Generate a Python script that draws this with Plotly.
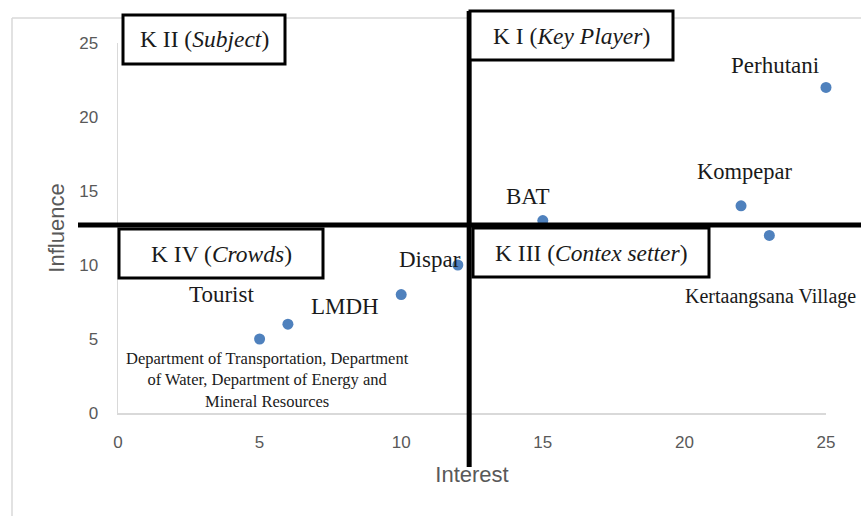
import plotly.graph_objects as go

# ---- data ----
stakeholders = ["Perhutani", "Kompepar", "BAT", "Dispar", "Kertaangsana Village",
                "LMDH", "Tourist",
                "Department of Transportation, Department<br>of Water, Department of Energy and<br>Mineral Resources"]
interest = [25, 22, 15, 12, 23, 10, 6, 5]
influence = [22, 14, 13, 10, 12, 8, 6, 5]
divider_interest = 12.4
divider_influence = 12.7
quadrant_labels = ["K I (<i>Key Player</i>)", "K II (<i>Subject</i>)",
                   "K III (<i>Contex setter</i>)", "K IV (<i>Crowds</i>)"]
x_ticks = [0, 5, 10, 15, 20, 25]
y_ticks = [0, 5, 10, 15, 20, 25]

# ---- layout geometry (window pixels; body margin removed via post_script) ----
W, H = 861, 516
PLOT_L, PLOT_R, PLOT_T, PLOT_B = 118, 826, 43, 413
L, R, T, B = PLOT_L, W - PLOT_R, PLOT_T, H - PLOT_B
PW, PH = PLOT_R - PLOT_L, PLOT_B - PLOT_T


def px(x):
    return (x - PLOT_L) / PW


def py(y):
    return (PLOT_B - y) / PH


SERIF = "Liberation Serif"
SANS = "Liberation Sans"
GRAY = "#595959"
LINE = "#d9d9d9"

fig = go.Figure()
fig.add_trace(go.Scatter(
    x=interest, y=influence, mode="markers",
    marker=dict(color="#4f81bd", size=11),
    cliponaxis=False, hoverinfo="skip", showlegend=False))

# point labels: (xshift, yshift, xanchor, font size)
label_style = [
    (-51, 22, "center", 23),
    (3, 34, "center", 22.5),
    (-15, 24, "center", 23),
    (-28, 6, "center", 23),
    (-86, -61, "left", 20),
    (-56, -12, "center", 23),
    (-66, 30, "center", 23),
    (8, -41, "center", 16.5),
]
for name, xv, yv, (xs, ys, xa, fs) in zip(stakeholders, interest, influence, label_style):
    fig.add_annotation(x=xv, y=yv, xref="x", yref="y", text=name, showarrow=False,
                       xshift=xs, yshift=ys, xanchor=xa, yanchor="middle",
                       font=dict(family=SERIF, size=fs, color="#1a1a1a"))

shapes = []
# outer chart frame (left & top)
shapes.append(dict(type="line", xref="paper", yref="paper", x0=px(12), x1=px(12),
                   y0=py(18), y1=py(H + 5), line=dict(color=LINE, width=1.5)))
shapes.append(dict(type="line", xref="paper", yref="paper", x0=px(12), x1=px(W + 5),
                   y0=py(18), y1=py(18), line=dict(color=LINE, width=1.5)))
# quadrant dividers
shapes.append(dict(type="line", xref="x", yref="paper", x0=divider_interest, x1=divider_interest,
                   y0=py(11), y1=py(467), line=dict(color="black", width=5)))
shapes.append(dict(type="line", xref="paper", yref="y", x0=px(78), x1=px(W + 5),
                   y0=divider_influence, y1=divider_influence, line=dict(color="black", width=5)))

# quadrant boxes (window pixel boxes) and their labels
boxes = [(470, 11, 673, 60), (123, 15, 285, 64), (473, 228, 709, 277), (119, 229, 323, 278)]
for (x0, y0, x1, y1), txt in zip(boxes, quadrant_labels):
    shapes.append(dict(type="rect", xref="paper", yref="paper", x0=px(x0), x1=px(x1),
                       y0=py(y0), y1=py(y1), line=dict(color="black", width=3),
                       fillcolor="white"))
    fig.add_annotation(x=px((x0 + x1) / 2), y=py((y0 + y1) / 2), xref="paper", yref="paper",
                       text=txt, showarrow=False, xanchor="center", yanchor="middle",
                       font=dict(family=SERIF, size=23.5, color="#1a1a1a"))

fig.update_layout(
    width=W, height=H, margin=dict(l=L, r=R, t=T, b=B),
    paper_bgcolor="white", plot_bgcolor="white",
    shapes=shapes,
    xaxis=dict(range=[0, 25], tickvals=x_ticks, showgrid=False, zeroline=False,
               showline=True, linecolor=LINE, linewidth=1.5, ticks="",
               ticklabelstandoff=13,
               tickfont=dict(family=SANS, size=17, color=GRAY),
               title=dict(text="Interest", font=dict(family=SANS, size=22, color=GRAY),
                          standoff=15)),
    yaxis=dict(range=[0, 25], tickvals=y_ticks, showgrid=False, zeroline=False,
               showline=True, linecolor=LINE, linewidth=1.5, ticks="",
               ticklabelstandoff=15,
               tickfont=dict(family=SANS, size=17, color=GRAY),
               title=dict(text="Influence", font=dict(family=SANS, size=22, color=GRAY),
                          standoff=8)),
)

fig.write_html("out.html", config={"displayModeBar": False, "staticPlot": True},
               post_script="document.body.style.margin='0';document.body.style.overflow='hidden';")
